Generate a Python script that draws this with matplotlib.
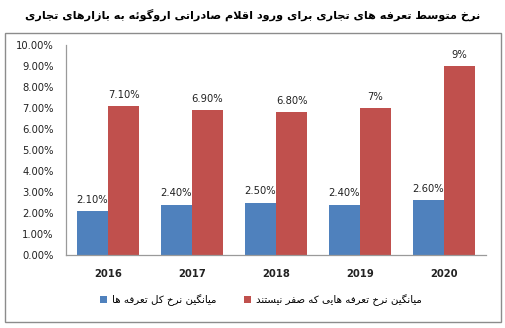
import matplotlib
matplotlib.use("Agg")
import matplotlib.pyplot as plt
import matplotlib.patches as patches
import numpy as np

years = ["2016", "2017", "2018", "2019", "2020"]
all_tariffs = [2.1, 2.4, 2.5, 2.4, 2.6]
nonzero_tariffs = [7.1, 6.9, 6.8, 7.0, 9.0]
all_labels = ["2.10%", "2.40%", "2.50%", "2.40%", "2.60%"]
nonzero_labels = ["7.10%", "6.90%", "6.80%", "7%", "9%"]

title = "نرخ متوسط تعرفه های تجاری برای ورود اقلام صادراتی اروگوئه به بازارهای تجاری"
legend_all = "میانگین نرخ کل تعرفه ها"
legend_nonzero = "میانگین نرخ تعرفه هایی که صفر نیستند"

# presentation forms: (isolated, final) or (isolated, final, initial, medial)
FORMS = {
    'ا': (0xFE8D, 0xFE8E), 'د': (0xFEA9, 0xFEAA), 'ر': (0xFEAD, 0xFEAE),
    'ز': (0xFEAF, 0xFEB0), 'و': (0xFEED, 0xFEEE),
    'ب': (0xFE8F, 0xFE90, 0xFE91, 0xFE92), 'ت': (0xFE95, 0xFE96, 0xFE97, 0xFE98),
    'ج': (0xFE9D, 0xFE9E, 0xFE9F, 0xFEA0), 'خ': (0xFEA5, 0xFEA6, 0xFEA7, 0xFEA8),
    'س': (0xFEB1, 0xFEB2, 0xFEB3, 0xFEB4), 'ص': (0xFEB9, 0xFEBA, 0xFEBB, 0xFEBC),
    'ط': (0xFEC1, 0xFEC2, 0xFEC3, 0xFEC4), 'ع': (0xFEC9, 0xFECA, 0xFECB, 0xFECC),
    'ف': (0xFED1, 0xFED2, 0xFED3, 0xFED4), 'ق': (0xFED5, 0xFED6, 0xFED7, 0xFED8),
    'ل': (0xFEDD, 0xFEDE, 0xFEDF, 0xFEE0), 'م': (0xFEE1, 0xFEE2, 0xFEE3, 0xFEE4),
    'ن': (0xFEE5, 0xFEE6, 0xFEE7, 0xFEE8), 'ه': (0xFEE9, 0xFEEA, 0xFEEB, 0xFEEC),
    'ئ': (0xFE89, 0xFE8A, 0xFE8B, 0xFE8C), 'ی': (0xFBFC, 0xFBFD, 0xFBFE, 0xFBFF),
    'ک': (0xFB8E, 0xFB8F, 0xFB90, 0xFB91), 'گ': (0xFB92, 0xFB93, 0xFB94, 0xFB95),
}


def joins_left(c):
    return c in FORMS and len(FORMS[c]) == 4


def shape(text):
    """join persian letters and flip for left-to-right drawing"""
    chars = list(text)
    n = len(chars)
    out = []
    i = 0
    while i < n:
        c = chars[i]
        if c not in FORMS:
            out.append(c)
            i += 1
            continue
        link_prev = i > 0 and joins_left(chars[i - 1])
        if c == 'ل' and i + 1 < n and chars[i + 1] == 'ا':
            out.append(chr(0xFEFC if link_prev else 0xFEFB))
            i += 2
            continue
        link_next = joins_left(c) and i + 1 < n and chars[i + 1] in FORMS
        f = FORMS[c]
        if link_prev and link_next:
            g = f[3]
        elif link_prev:
            g = f[1]
        elif link_next:
            g = f[2]
        else:
            g = f[0]
        out.append(chr(g))
        i += 1
    return "".join(reversed(out))


plt.rcParams['font.family'] = ['DejaVu Sans']

blue = "#4F81BD"
red = "#C0504D"

fig = plt.figure(figsize=(5.05, 3.28), dpi=100)
fig.patch.set_facecolor("white")

# outer chart border
fig.patches.append(patches.Rectangle((5 / 505, 1 - 322 / 328), 496 / 505, 289 / 328,
                                     transform=fig.transFigure, fill=False,
                                     edgecolor="#8c8c8c", linewidth=1.0))

ax = fig.add_axes([66 / 505, 1 - 255 / 328, 420 / 505, 210 / 328])

x = np.arange(len(years))
w = 0.37
b1 = ax.bar(x - w / 2, all_tariffs, w, color=blue, label=shape(legend_all))
b2 = ax.bar(x + w / 2, nonzero_tariffs, w, color=red, label=shape(legend_nonzero))

for rect, lab in zip(b1, all_labels):
    ax.annotate(lab, (rect.get_x() + rect.get_width() / 2, rect.get_height()),
                xytext=(0, 4.5), textcoords="offset points", ha="center", va="bottom",
                fontsize=7.2, color="#222222")
for rect, lab in zip(b2, nonzero_labels):
    ax.annotate(lab, (rect.get_x() + rect.get_width() / 2, rect.get_height()),
                xytext=(0, 4.5), textcoords="offset points", ha="center", va="bottom",
                fontsize=7.2, color="#222222")

ax.set_xlim(-0.5, len(years) - 0.5)
ax.set_ylim(0, 10)
ax.set_yticks(np.arange(0, 11, 1))
ax.set_yticklabels(["%.2f%%" % v for v in np.arange(0, 11, 1)], fontsize=7.2)
ax.set_xticks(x)
ax.set_xticklabels(years, fontsize=7.2, fontweight="bold")
ax.tick_params(axis="both", length=0, colors="#222222")
ax.tick_params(axis="y", pad=9)
ax.tick_params(axis="x", pad=10)
for s in ["top", "right"]:
    ax.spines[s].set_visible(False)
for s in ["left", "bottom"]:
    ax.spines[s].set_color("#9a9a9a")
    ax.spines[s].set_linewidth(0.9)

fig.text(0.5, 1 - 15 / 328, shape(title), ha="center", va="center",
         fontsize=8.1, fontweight="bold")

fig.legend(loc="center", bbox_to_anchor=(261 / 505, 1 - 300 / 328), ncol=2,
           frameon=False, fontsize=7.4, handlelength=0.7, handleheight=0.7,
           handletextpad=0.5, columnspacing=2.6)

fig.savefig("out.png", dpi=100)
